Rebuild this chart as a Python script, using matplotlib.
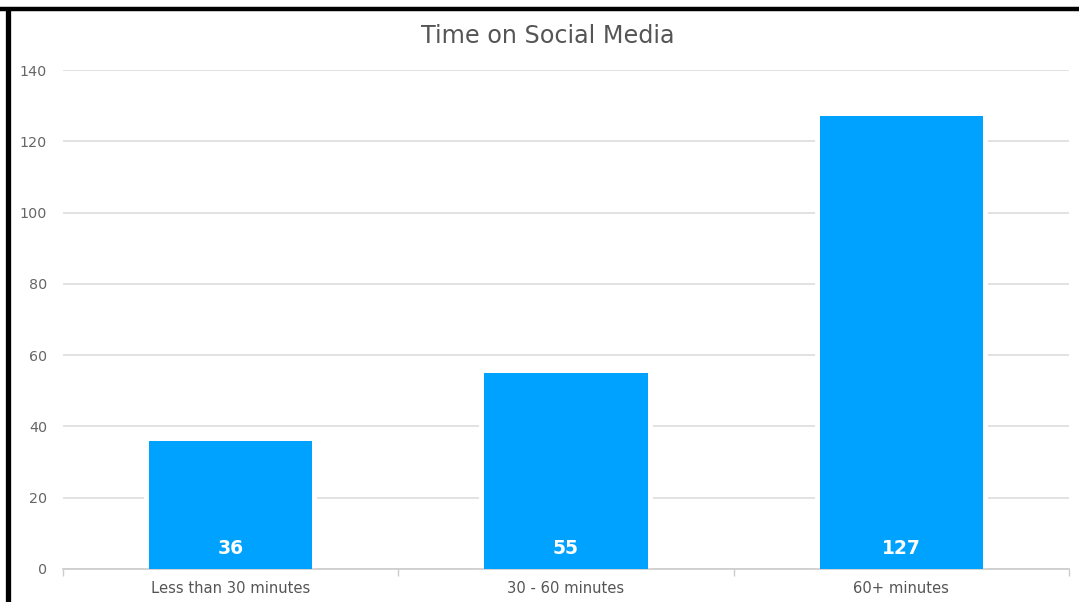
import matplotlib
matplotlib.use("Agg")
import matplotlib.pyplot as plt
from matplotlib.lines import Line2D

categories = ["Less than 30 minutes", "30 - 60 minutes", "60+ minutes"]
values = [36, 55, 127]
yticks = [0, 20, 40, 60, 80, 100, 120, 140]
title = "Time on Social Media"

W, H = 1079, 602
fig = plt.figure(figsize=(W / 100, H / 100), dpi=100)
plt.rcParams['font.family'] = ['DejaVu Sans']

left, right, bottom, top = 63, 1069, 569, 70
ax = fig.add_axes([left / W, 1 - bottom / H, (right - left) / W, (bottom - top) / H])

x = list(range(len(categories)))
bw = 0.487
gap = 0.03
ax.bar(x, values, width=bw + gap, color="white", zorder=2)
ax.bar(x, values, width=bw, color="#00A2FF", zorder=3)

ax.set_xlim(-0.5, len(categories) - 0.5)
ax.set_ylim(0, 140)
ax.set_yticks(yticks)
ax.yaxis.grid(True, color="#dddddd", linewidth=1.2, zorder=1)
ax.set_axisbelow(True)
ax.tick_params(axis="y", length=0, pad=11.5, labelsize=10.3, labelcolor="#666666")

ax.set_xticks([i - 0.5 for i in range(len(categories) + 1)])
ax.set_xticklabels([])
ax.set_xticks(x, minor=True)
ax.set_xticklabels(categories, minor=True)
ax.tick_params(axis="x", which="major", length=5, color="#cccccc", width=1)
ax.tick_params(axis="x", which="minor", length=0, pad=8.5, labelsize=10.6, labelcolor="#555555")

for s in ["top", "right", "left"]:
    ax.spines[s].set_visible(False)
ax.spines["bottom"].set_color("#cccccc")
ax.spines["bottom"].set_linewidth(1.2)

for xi, v in zip(x, values):
    ax.annotate(str(v), (xi, 0), xytext=(0, 14.5), textcoords="offset points",
                ha="center", va="center", color="white", fontsize=13.5,
                fontweight="bold", zorder=4)

fig.text(548 / W, 1 - 36 / H, title, ha="center", va="center",
         fontsize=17.2, color="#555555")

# frame lines (top and left)
fig.add_artist(Line2D([0, 1], [1 - 8.5 / H, 1 - 8.5 / H], color="black",
                      linewidth=3.2, solid_capstyle="butt", transform=fig.transFigure))
fig.add_artist(Line2D([7.5 / W, 7.5 / W], [0, 1 - 7 / H], color="black",
                      linewidth=3.8, solid_capstyle="butt", transform=fig.transFigure))

fig.savefig("out.png", dpi=100)
